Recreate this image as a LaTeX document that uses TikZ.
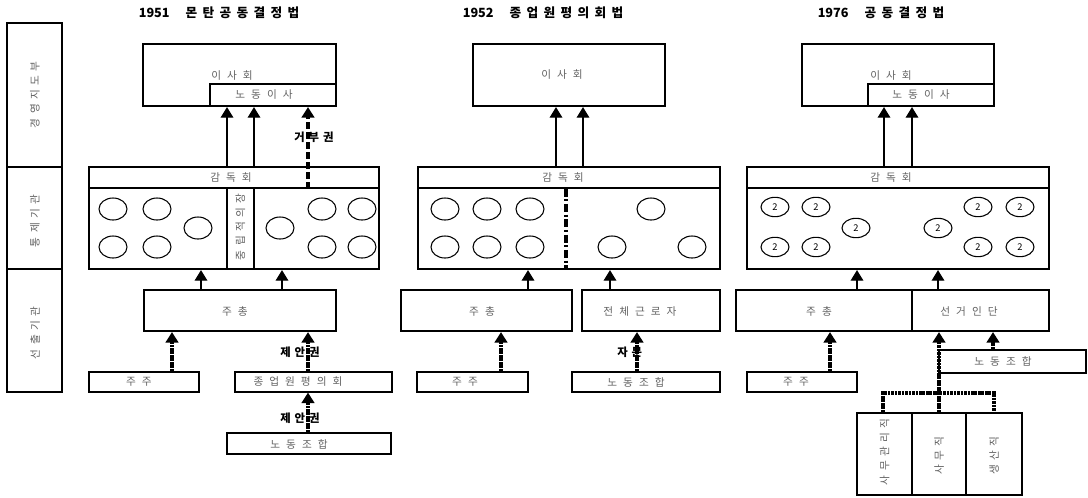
\documentclass[tikz,border=0pt]{standalone}
\usepackage{fontspec}
\setmainfont{Noto Sans CJK KR}
\usetikzlibrary{arrows.meta,fit,shapes.geometric}
\newcommand\lbfnt{\fontsize{8}{9}\selectfont\spaceskip 4.5pt\relax}
\newcommand\vlfnt{\fontsize{8}{9}\selectfont\spaceskip 3.2pt\relax}
\newcommand\ttlfnt{\bfseries\fontsize{9.5}{10}\selectfont\spaceskip 4pt\relax}
\newcommand\blfnt{\bfseries\fontsize{8.5}{9}\selectfont}
\newcommand\gp{\hspace{3pt}}
\begin{document}
\begin{tikzpicture}[x=0.75pt,y=-0.75pt,
  tb/.style={draw,line width=1.6pt,inner sep=0pt},
  nb/.style={draw,line width=0.8pt,inner sep=0pt},
  lb/.style={font=\lbfnt,text=black!62,inner sep=0pt},
  vl/.style={font=\vlfnt,text=black!62,rotate=90,inner sep=0pt},
  ttl/.style={font=\ttlfnt},
  bl/.style={font=\blfnt,inner sep=0pt,anchor=west},
  ell/.style={draw,ellipse,line width=0.8pt,minimum width=21pt,minimum height=16.5pt,inner sep=0pt},
  el2/.style={draw,ellipse,line width=0.8pt,minimum width=21pt,minimum height=14.5pt,inner sep=0pt,font=\fontsize{7}{8}\selectfont},
  tip/.style={-{Triangle[width=9.5pt,length=8pt]}},
  ar/.style={tip,line width=1.1pt},
  dar/.style={tip,line width=2.4pt,dash pattern=on 2pt off 0.6pt},
  dl/.style={line width=2.4pt,dash pattern=on 2pt off 0.6pt},
  dsh/.style={tip,line width=2.4pt,dash pattern=on 5pt off 2.5pt},
  dd/.style={line width=2.4pt,dash pattern=on 6pt off 2pt on 1.5pt off 2pt}
]
\useasboundingbox (0,0) rectangle (1088,497);

% ---------- left label column ----------
\node[nb,fit={(7,23)(62,167)}] (c1) {};
\node[nb,fit={(7,167)(62,269)}] (c2) {};
\node[nb,fit={(7,269)(62,392)}] (c3) {};
\node[vl] (c1t) at (35,95) {경 영 지 도 부};
\node[vl] (c2t) at (35,221) {통 제 기 관};
\node[vl] (c3t) at (35,333) {선 출 기 관};

% ================= 1951 =================
\node[ttl] (t1) at (219,13) {1951\hspace{12pt}몬 탄 공 동 결 정 법};
\node[tb,fit={(143,44)(336,106)}] (is1) {};
\node[nb,fit={(210,84)(336,106)}] (nd1) {};
\node[lb] (nd1t) at (264,95) {노 동 이 사};
\node[lb] (is1t) at (232,76) {이 사 회};

\node[nb,fit={(89,167)(379,188)}] (hd1) {};
\node[lb] (hd1t) at (231,178) {감 독 회};
\node[tb,fit={(89,167)(379,269)}] (gd1) {};
\node[nb,fit={(227,188)(254,269)}] (nu1) {};
\node[vl] (nu1t) at (240.5,227) {중 립 적 의 장};
\foreach \n/\px/\py in {a/113/209,b/157/209,c/113/247,d/157/247,e/198/228,f/280/228,g/322/209,h/362/209,i/322/247,j/362/247}
  \node[ell] (e1\n) at (\px,\py) {};

\draw[ar] (gd1.north -| 227,0) -- (is1.south -| 227,0);
\draw[ar] (gd1.north -| 254,0) -- (is1.south -| 254,0);
\node[bl] (gb1) at (294,137) {거\gp 부\gp 권};
\draw[dsh] (hd1.south -| 308,0) -- (is1.south -| 308,0);

\node[tb,fit={(144,290)(336,331)}] (jc1) {};
\node[lb] (jc1t) at (235,311) {주 총};
\draw[ar] (jc1.north -| 201,0) -- (gd1.south -| 201,0);
\draw[ar] (jc1.north -| 282,0) -- (gd1.south -| 282,0);

\node[nb,fit={(89,372)(199,392)}] (jj1) {};
\node[lb] (jj1t) at (139,382) {주 주};
\draw[dar] (jj1.north -| 172,0) -- (jc1.south -| 172,0);

\node[nb,fit={(235,372)(392,392)}] (bw1) {};
\node[lb] (bw1t) at (298,382) {종 업 원 평 의 회};
\node[bl] (je1) at (280,352) {제\gp 안\gp 권};
\draw[dar] (bw1.north -| 308,0) -- (jc1.south -| 308,0);

\node[nb,fit={(227,433)(391,454)}] (nj1) {};
\node[lb] (nj1t) at (299,444) {노 동 조 합};
\node[bl] (je2) at (280,418) {제\gp 안\gp 권};
\draw[dar] (nj1.north -| 308,0) -- (bw1.south -| 308,0);

% ================= 1952 =================
\node[ttl] (t2) at (543,13) {1952\hspace{12pt}종 업 원 평 의 회 법};
\node[tb,fit={(473,44)(665,106)}] (is2) {};
\node[lb] (is2t) at (562,75) {이 사 회};
\node[nb,fit={(418,167)(720,188)}] (hd2) {};
\node[lb] (hd2t) at (563,178) {감 독 회};
\node[tb,fit={(418,167)(720,269)}] (gd2) {};
\draw[dd] (hd2.south -| 566,0) -- (gd2.south -| 566,0);
\foreach \n/\px/\py in {a/445/209,b/487/209,c/530/209,d/445/247,e/487/247,f/530/247,g/651/209,h/612/247,i/692/247}
  \node[ell] (e2\n) at (\px,\py) {};
\draw[ar] (gd2.north -| 556,0) -- (is2.south -| 556,0);
\draw[ar] (gd2.north -| 583,0) -- (is2.south -| 583,0);

\node[tb,fit={(401,290)(572,331)}] (jc2) {};
\node[lb] (jc2t) at (482,311) {주 총};
\node[tb,fit={(582,290)(720,331)}] (jw2) {};
\node[lb] (jw2t) at (640,311) {전 체 근 로 자};
\draw[ar] (jc2.north -| 528,0) -- (gd2.south -| 528,0);
\draw[ar] (jw2.north -| 610,0) -- (gd2.south -| 610,0);

\node[nb,fit={(417,372)(528,392)}] (jj2) {};
\node[lb] (jj2t) at (465,382) {주 주};
\draw[dar] (jj2.north -| 501,0) -- (jc2.south -| 501,0);
\node[nb,fit={(572,372)(720,392)}] (nj2) {};
\node[lb] (nj2t) at (636,382) {노 동 조 합};
\node[bl] (jm2) at (617,352) {자\gp 문};
\draw[dar] (nj2.north -| 637,0) -- (jw2.south -| 637,0);

% ================= 1976 =================
\node[ttl] (t3) at (881,13) {1976\hspace{12pt}공 동 결 정 법};
\node[tb,fit={(802,44)(994,106)}] (is3) {};
\node[nb,fit={(868,84)(994,106)}] (nd3) {};
\node[lb] (nd3t) at (921,95) {노 동 이 사};
\node[lb] (is3t) at (891,76) {이 사 회};

\node[nb,fit={(747,167)(1049,188)}] (hd3) {};
\node[lb] (hd3t) at (891,178) {감 독 회};
\node[tb,fit={(747,167)(1049,269)}] (gd3) {};
\foreach \n/\px/\py in {a/775/207,b/816/207,c/775/247,d/816/247,e/856/228,f/938/228,g/978/207,h/1020/207,i/978/247,j/1020/247}
  \node[el2] (e3\n) at (\px,\py) {2};
\draw[ar] (gd3.north -| 884,0) -- (is3.south -| 884,0);
\draw[ar] (gd3.north -| 912,0) -- (is3.south -| 912,0);

\node[tb,fit={(736,290)(912,331)}] (jc3) {};
\node[lb] (jc3t) at (819,311) {주 총};
\node[tb,fit={(912,290)(1049,331)}] (sg3) {};
\node[lb] (sg3t) at (969,311) {선 거 인 단};
\draw[ar] (jc3.north -| 857,0) -- (gd3.south -| 857,0);
\draw[ar] (sg3.north -| 938,0) -- (gd3.south -| 938,0);

\node[nb,fit={(747,372)(857,392)}] (jj3) {};
\node[lb] (jj3t) at (796,382) {주 주};
\draw[dar] (jj3.north -| 830,0) -- (jc3.south -| 830,0);
\node[nb,fit={(939,350)(1086,373)}] (nj3) {};
\node[lb] (nj3t) at (1003,361.5) {노 동 조 합};
\draw[dar] (nj3.north -| 993,0) -- (sg3.south -| 993,0);

\node[nb,fit={(857,413)(912,495)}] (g1) {};
\node[nb,fit={(912,413)(966,495)}] (g2) {};
\node[nb,fit={(966,413)(1022,495)}] (g3) {};
\node[vl] (g1t) at (884.5,452) {사 무 관 리 직};
\node[vl] (g2t) at (939,456) {사 무 직};
\node[vl] (g3t) at (994,456) {생 산 직};
\coordinate (jn) at (939,393);
\draw[dl] (g1.north -| 883,0) -- (883,393) -- (994,393) -- (g3.north -| 994,0);
\draw[dl] (g2.north -| jn) -- (jn);
\draw[dar] (jn) -- (sg3.south -| jn);
\end{tikzpicture}
\end{document}
